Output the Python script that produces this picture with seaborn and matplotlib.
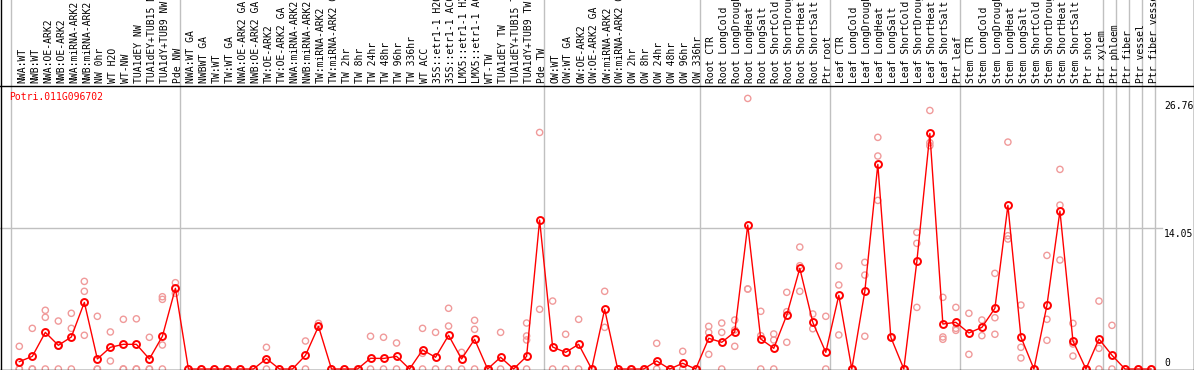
import numpy as np
import pandas as pd
import matplotlib
matplotlib.use("Agg")
import matplotlib.pyplot as plt
from matplotlib.lines import Line2D
import seaborn as sns

# column labels, grouped as in the header
labels = [
    # NW
    "NWA:WT", "NWB:WT", "NWA:OE-ARK2", "NWB:OE-ARK2", "NWA:miRNA-ARK2", "NWB:miRNA-ARK2",
    "NW 0hr", "WT H2O", "WT-NW", "TUA1dEY NW", "TUA1dEY+TUB15 NW", "TUA1dY+TUB9 NW", "Pde NW",
    # TW
    "NWA:WT GA", "NWBWT GA", "TW:WT", "TW:WT GA", "NWA:OE-ARK2 GA", "NWB:OE-ARK2 GA",
    "TW:OE-ARK2", "TW:OE-ARK2 GA", "NWA:miRNA-ARK2 GA", "NWB:miRNA-ARK2 GA", "TW:miRNA-ARK2",
    "TW:miRNA-ARK2 GA", "TW 2hr", "TW 8hr", "TW 24hr", "TW 48hr", "TW 96hr", "TW 336hr", "WT ACC",
    "35S::etr1-1 H2O", "35S::etr1-1 ACC", "LMX5::etr1-1 H2O", "LMX5::etr1-1 ACC", "WT-TW",
    "TUA1dEY TW", "TUA1dEY+TUB15 TW", "TUA1dY+TUB9 TW", "Pde TW",
    # OW
    "OW:WT", "OW:WT GA", "OW:OE-ARK2", "OW:OE-ARK2 GA", "OW:miRNA-ARK2", "OW:miRNA-ARK2 GA",
    "OW 2hr", "OW 8hr", "OW 24hr", "OW 48hr", "OW 96hr", "OW 336hr",
    # root
    "Root CTR", "Root LongCold", "Root LongDrought", "Root LongHeat", "Root LongSalt",
    "Root ShortCold", "Root ShortDrought", "Root ShortHeat", "Root ShortSalt", "Ptr root",
    # leaf
    "Leaf CTR", "Leaf LongCold", "Leaf LongDrought", "Leaf LongHeat", "Leaf LongSalt",
    "Leaf ShortCold", "Leaf ShortDrought", "Leaf ShortHeat", "Leaf ShortSalt", "Ptr leaf",
    # stem
    "Stem CTR", "Stem LongCold", "Stem LongDrought", "Stem LongHeat", "Stem LongSalt",
    "Stem ShortCold", "Stem ShortDrought", "Stem ShortHeat", "Stem ShortSalt", "Ptr shoot", "Ptr xylem",
    "Ptr phloem", "Ptr fiber", "Ptr vessel", "Ptr fiber vessel",
]
group_sizes = [13, 28, 12, 10, 10, 11, 1, 1, 1, 1]

means = [
    0.73, 1.26, 3.65, 2.36, 3.19, 6.64, 1.0, 2.16, 2.46, 2.46, 1.0, 3.26, 8.04,
    0, 0, 0, 0, 0, 0, 1.03, 0, 0, 1.36, 4.25, 0, 0, 0, 1.07, 1.05, 1.26, 0, 1.89, 1.17,
    3.36, 1.0, 2.96, 0, 1.17, 0, 1.26, 14.84,
    2.19, 1.66, 2.46, 0, 5.95, 0, 0, 0, 0.8, 0, 0.57, 0,
    3.06, 2.66, 3.69, 14.34, 2.99, 2.06, 5.38, 10.03, 4.65, 1.66,
    7.34, 0, 7.74, 20.39, 3.16, 0, 10.73, 23.47, 4.48, 4.65,
    3.59, 4.15, 6.05, 16.3, 3.19, 0, 6.34, 15.74, 2.79, 0, 2.99,
    1.37, 0, 0, 0,
]

replicates = [
    [2.26, 0, 0], [4.05, 0, 0], [5.85, 5.15, 0], [4.78, 2.3, 0], [5.55, 4.05, 0],
    [8.73, 7.74, 3.36], [5.25, 0, 0], [3.69, 0.8], [4.95, 0, 0], [5.0, 0, 0],
    [3.16, 0, 0], [7.2, 6.94, 2.39, 0], [8.6, 7.54],
    [0], [0], [0], [0], [0], [0], [2.16, 0], [0], [0], [2.79, 0], [4.55, 4.25],
    [0], [0], [0], [3.26, 0], [3.16, 0], [2.59, 0], [0], [4.05, 1.56, 0], [3.65, 0],
    [6.05, 4.28, 0], [1.66, 0], [4.85, 3.95, 0], [0], [3.65, 0], [0],
    [4.58, 3.29, 2.89, 0], [23.57, 5.95],
    [6.77, 0], [3.46, 0], [4.95, 0], [0], [7.74, 4.15], [0], [0], [0], [2.56, 0],
    [0], [1.76, 0], [0],
    [4.25, 3.65, 1.46], [4.58, 3.65, 0], [4.88, 3.89, 2.26], [26.96, 7.97, 7.97],
    [5.75, 3.32, 0], [3.49, 2.89, 0], [7.64, 5.71, 2.66], [12.15, 10.29, 7.74],
    [5.48, 4.01], [5.25, 0],
    [10.26, 8.37, 3.39], [0], [10.63, 9.36, 3.26], [23.08, 21.22, 16.8], [3.16], [0],
    [13.61, 12.52, 6.14], [25.76, 22.55, 22.25], [7.14, 3.19, 2.96], [6.14, 4.05, 3.85],
    [5.55, 1.46], [4.88, 3.32], [9.53, 5.11, 3.46], [22.61, 13.28, 12.95],
    [6.37, 2.16, 1.1], [0], [11.32, 4.95, 2.86], [19.89, 16.33, 10.86],
    [4.55, 2.49, 1.29], [0], [6.77, 2.06, 0],
    [4.35, 0], [0], [0], [0],
]

gene = "Potri.011G096702"
scale_labels = ["26.76", "14.05", "0"]
scale_values = [26.76, 14.05, 0]

W, H = 1194, 370
mono = "DejaVu Sans Mono"
plt.rcParams["font.family"] = mono
plt.rcParams["font.size"] = 7

mean_df = pd.DataFrame({"pos": np.arange(len(means)), "value": means})
rep_df = pd.DataFrame(
    [(i, v) for i, vals in enumerate(replicates) for v in vals], columns=["pos", "value"]
)

fig = plt.figure(figsize=(W / 100, H / 100), dpi=100)
ax = fig.add_axes([0, 0, 1, 1])

sns.scatterplot(data=rep_df, x="pos", y="value", ax=ax, marker="o", s=20,
                facecolor="none", edgecolor="#f09a9a", linewidth=1.0, zorder=2, legend=False)
sns.lineplot(data=mean_df, x="pos", y="value", ax=ax, color="red", lw=1,
             marker="o", markersize=5, markerfacecolor="none", markeredgecolor="red",
             markeredgewidth=1.4, zorder=3)

# pixel layout -> data units
col_w = 13.008
x0 = 19.3
ax.set_xlim(-x0 / col_w, (W - x0) / col_w)
px_per_unit = 10.036
zero_px = 369
ax.set_ylim(-(H - zero_px) / px_per_unit, zero_px / px_per_unit)
ax.set_axis_off()

# group separators
starts = np.concatenate([[0], np.cumsum(group_sizes)])
for s in starts:
    ax.axvline(s - 0.67, color="#c0c0c0", lw=1, zorder=1)

ax.axhline(scale_values[1], xmax=1162 / W, color="#c0c0c0", lw=1, zorder=1)

# header labels
xtrans = ax.get_xaxis_transform()
for i, lab in enumerate(labels):
    ax.text(i + 0.2, 1 - 83 / H, lab, transform=xtrans, rotation=90,
            ha="center", va="bottom", color="black")

# frame lines
for line in [
    Line2D([0, 1], [1 - 85.5 / H] * 2),
    Line2D([0, 1], [0.5 / H] * 2),
    Line2D([0.5 / W] * 2, [0, 1]),
    Line2D([1 - 0.5 / W] * 2, [0, 1]),
]:
    line.set_transform(fig.transFigure)
    line.set_color("black")
    line.set_linewidth(1)
    fig.add_artist(line)

fig.text(9 / W, 1 - 97 / H, gene, color="red", ha="left", va="center")

for lab, v in zip(scale_labels, scale_values):
    if v == 0:
        ax.annotate(lab, xy=(1164, v), xycoords=("figure pixels", "data"),
                    xytext=(0, 3), textcoords="offset pixels", ha="left", va="baseline")
    else:
        ax.annotate(lab, xy=(1164, v), xycoords=("figure pixels", "data"),
                    xytext=(0, -1), textcoords="offset pixels", ha="left", va="top")

fig.savefig("out.png", dpi=100, facecolor="white")
